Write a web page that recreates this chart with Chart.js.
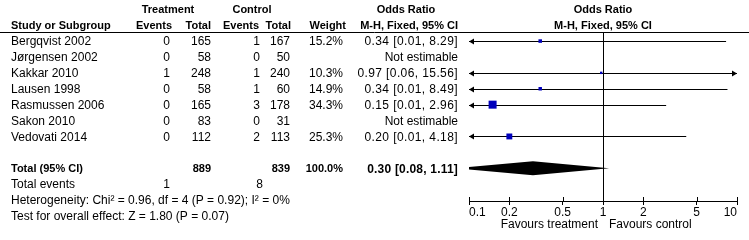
<!DOCTYPE html>
<html>
<head>
<meta charset="utf-8">
<script src="https://cdn.jsdelivr.net/npm/chart.js@4/dist/chart.umd.min.js"></script>
<style>
  html, body { margin: 0; padding: 0; background: #fff; }
  canvas { display: block; }
</style>
</head>
<body>
<canvas id="forest" width="749" height="240"></canvas>
<script>
// study rows
const studies = ['Bergqvist 2002', 'Jørgensen 2002', 'Kakkar 2010', 'Lausen 1998', 'Rasmussen 2006', 'Sakon 2010', 'Vedovati 2014'];
const treatEvents = [0, 0, 1, 0, 0, 0, 0];
const treatTotal = [165, 58, 248, 58, 165, 83, 112];
const ctrlEvents = [1, 0, 1, 1, 3, 0, 2];
const ctrlTotal = [167, 50, 240, 60, 178, 31, 113];
const weights = [15.2, null, 10.3, 14.9, 34.3, null, 25.3];
const oddsRatio = [0.34, null, 0.97, 0.34, 0.15, null, 0.20];
const ciLow = [0.01, null, 0.06, 0.01, 0.01, null, 0.01];
const ciHigh = [8.29, null, 15.56, 8.49, 2.96, null, 4.18];

// pooled result
const totalTreat = 889;
const totalCtrl = 839;
const totalEventsTreat = 1;
const totalEventsCtrl = 8;
const totalWeight = 100.0;
const totalOR = 0.30;
const totalLow = 0.08;
const totalHigh = 1.11;
const heterogeneityText = 'Heterogeneity: Chi² = 0.96, df = 4 (P = 0.92); I² = 0%';
const overallText = 'Test for overall effect: Z = 1.80 (P = 0.07)';

const xTicks = [0.1, 0.2, 0.5, 1, 2, 5, 10];
const favourLeft = 'Favours treatment';
const favourRight = 'Favours control';

const FONT = "'Liberation Sans', Arial, sans-serif";
const SQUARE = '#0000BB';
const TOTAL_ROW = studies.length + 1;
const COL = { name: 11, tEv: 170, tTot: 211, cEv: 260, cTot: 290, wt: 343, or: 458 };

const fmtCI = (o, l, h) => `${o.toFixed(2)} [${l.toFixed(2)}, ${h.toFixed(2)}]`;

const points = [];
const radii = [];
studies.forEach((s, i) => {
    if (oddsRatio[i] == null) return;
    points.push({ x: oddsRatio[i], y: i });
    radii.push(weights[i] * 0.165);
});

const forestPlugin = {
    id: 'forest',
    beforeDatasetsDraw(chart) {
        const { ctx, chartArea: a, scales: { x, y } } = chart;
        ctx.save();
        ctx.strokeStyle = '#000';
        ctx.fillStyle = '#000';
        ctx.lineWidth = 1;

        // header rule
        ctx.beginPath();
        ctx.moveTo(0, Math.round(a.top) + 0.5);
        ctx.lineTo(chart.width, Math.round(a.top) + 0.5);
        ctx.stroke();

        // line of no effect
        const x1 = Math.round(x.getPixelForValue(1)) + 0.5;
        ctx.beginPath();
        ctx.moveTo(x1, a.top);
        ctx.lineTo(x1, a.bottom);
        ctx.stroke();

        // confidence intervals, arrows where they run off the scale
        const arrow = (px, py, dir) => {
            ctx.beginPath();
            ctx.moveTo(px, py);
            ctx.lineTo(px - dir * 5, py - 3);
            ctx.lineTo(px - dir * 5, py + 3);
            ctx.closePath();
            ctx.fill();
        };
        studies.forEach((s, i) => {
            if (oddsRatio[i] == null) return;
            const py = Math.round(y.getPixelForValue(i)) + 0.5;
            const lo = Math.max(ciLow[i], x.min);
            const hi = Math.min(ciHigh[i], x.max);
            const pl = x.getPixelForValue(lo);
            const ph = x.getPixelForValue(hi);
            ctx.beginPath();
            ctx.moveTo(pl, py);
            ctx.lineTo(ph, py);
            ctx.stroke();
            if (ciLow[i] < x.min) arrow(pl, py, -1);
            if (ciHigh[i] > x.max) arrow(ph, py, 1);
        });

        // pooled diamond, clipped to the plot
        const dy = y.getPixelForValue(TOTAL_ROW);
        const h = 7;
        ctx.save();
        ctx.beginPath();
        ctx.rect(a.left, a.top, a.right - a.left, a.bottom - a.top);
        ctx.clip();
        ctx.beginPath();
        ctx.moveTo(x.getPixelForValue(totalLow), dy);
        ctx.lineTo(x.getPixelForValue(totalOR), dy - h);
        ctx.lineTo(x.getPixelForValue(totalHigh), dy);
        ctx.lineTo(x.getPixelForValue(totalOR), dy + h);
        ctx.closePath();
        ctx.fill();
        ctx.restore();

        // ticks crossing the axis upward
        xTicks.forEach(v => {
            const px = Math.round(x.getPixelForValue(v)) + 0.5;
            ctx.beginPath();
            ctx.moveTo(px, a.bottom - 4);
            ctx.lineTo(px, a.bottom);
            ctx.stroke();
        });
        ctx.restore();
    },
    afterDraw(chart) {
        const { ctx, scales: { x, y } } = chart;
        const ry = r => y.getPixelForValue(r) + 1;
        const text = (t, px, r, align, font, spacing) => {
            ctx.font = (font || '12px ') + FONT;
            ctx.letterSpacing = spacing || '0px';
            ctx.textAlign = align;
            ctx.fillText(t, px, ry(r));
        };
        const B = 'bold 11px ';
        ctx.save();
        ctx.fillStyle = '#000';
        ctx.textBaseline = 'middle';

        // headers
        text('Treatment', 168, -2, 'center', B);
        text('Control', 252, -2, 'center', B);
        text('Odds Ratio', 406, -2, 'center', B);
        text('Odds Ratio', x.getPixelForValue(1), -2, 'center', B);
        text('Study or Subgroup', COL.name, -1, 'left', B);
        text('Events', COL.tEv + 2, -1, 'right', B);
        text('Total', COL.tTot, -1, 'right', B);
        text('Events', COL.cEv - 1, -1, 'right', B);
        text('Total', COL.cTot + 1, -1, 'right', B);
        text('Weight', COL.wt + 3, -1, 'right', B);
        text('M-H, Fixed, 95% CI', COL.or, -1, 'right', B);
        text('M-H, Fixed, 95% CI', x.getPixelForValue(1), -1, 'center', B);

        // study rows
        studies.forEach((s, i) => {
            text(s, COL.name, i, 'left');
            text(String(treatEvents[i]), COL.tEv, i, 'right');
            text(String(treatTotal[i]), COL.tTot, i, 'right');
            text(String(ctrlEvents[i]), COL.cEv, i, 'right');
            text(String(ctrlTotal[i]), COL.cTot, i, 'right');
            if (weights[i] != null) text(weights[i].toFixed(1) + '%', COL.wt, i, 'right');
            if (oddsRatio[i] == null) text('Not estimable', COL.or, i, 'right');
            else text(fmtCI(oddsRatio[i], ciLow[i], ciHigh[i]), COL.or, i, 'right', null, '0.4px');
        });

        // totals
        text('Total (95% CI)', COL.name, TOTAL_ROW, 'left', B);
        text(String(totalTreat), COL.tTot, TOTAL_ROW, 'right', B);
        text(String(totalCtrl), COL.cTot, TOTAL_ROW, 'right', B);
        text(totalWeight.toFixed(1) + '%', COL.wt, TOTAL_ROW, 'right', B);
        text(fmtCI(totalOR, totalLow, totalHigh), COL.or, TOTAL_ROW, 'right', 'bold 12px ', '0.2px');
        text('Total events', COL.name, TOTAL_ROW + 1, 'left');
        text(String(totalEventsTreat), COL.tEv, TOTAL_ROW + 1, 'right');
        text(String(totalEventsCtrl), COL.cEv + 3, TOTAL_ROW + 1, 'right');
        text(heterogeneityText, COL.name, TOTAL_ROW + 2, 'left');
        text(overallText, COL.name, TOTAL_ROW + 3, 'left');

        // favours labels
        const p1 = x.getPixelForValue(1);
        ctx.font = '12px ' + FONT;
        ctx.letterSpacing = '0px';
        ctx.textAlign = 'right';
        ctx.fillText(favourLeft, p1 - 5, 225);
        ctx.textAlign = 'left';
        ctx.fillText(favourRight, p1 + 6, 225);
        ctx.restore();
    }
};

new Chart(document.getElementById('forest'), {
    type: 'scatter',
    data: {
        datasets: [{
            data: points,
            pointStyle: 'rect',
            pointRadius: radii,
            backgroundColor: SQUARE,
            borderWidth: 0
        }]
    },
    options: {
        responsive: false,
        animation: false,
        events: [],
        layout: { padding: { left: 469, right: 12, top: 32, bottom: 0 } },
        plugins: { legend: { display: false }, tooltip: { enabled: false } },
        scales: {
            x: {
                type: 'logarithmic',
                min: 0.1,
                max: 10,
                afterBuildTicks: scale => { scale.ticks = xTicks.map(v => ({ value: v })); },
                afterFit: scale => { scale.height = 39; },
                ticks: {
                    color: '#000',
                    padding: 0,
                    align: 'inner',
                    maxRotation: 0,
                    autoSkip: false,
                    font: { family: FONT, size: 12 },
                    callback: v => String(v)
                },
                grid: { display: true, drawOnChartArea: false, drawTicks: true, tickLength: 4, color: '#000' },
                border: { display: true, color: '#000' }
            },
            y: {
                type: 'linear',
                reverse: true,
                min: -0.57,
                max: 10.06,
                display: false
            }
        }
    },
    plugins: [forestPlugin]
});
</script>
</body>
</html>
